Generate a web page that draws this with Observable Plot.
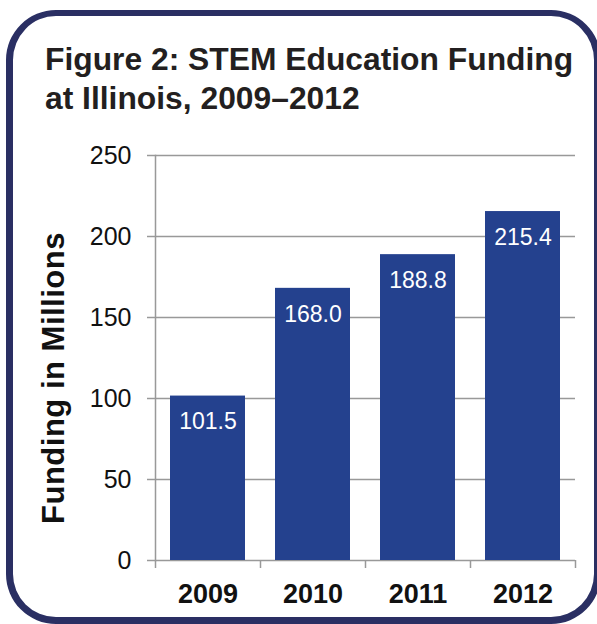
<!DOCTYPE html>
<html>
<head>
<meta charset="utf-8">
<script src="https://cdn.jsdelivr.net/npm/d3@7"></script>
<script src="https://cdn.jsdelivr.net/npm/@observablehq/plot@0.6"></script>
<style>
  body { margin: 0; background: #fff; font-family: "Liberation Sans", Arial, sans-serif; }
  #wrap { position: relative; width: 597px; height: 624px; overflow: hidden; background: #fff; }
  #border { position: absolute; left: 6px; top: 10px; width: 581px; height: 601px; border: 7px solid #2a2f63; border-top-width: 6px; border-radius: 50px; }
  #title { position: absolute; left: 45px; top: 40px; margin: 0; font-size: 31.8px; line-height: 39px; font-weight: bold; color: #231f20; }
  #chart { position: absolute; left: 0; top: 130px; }
  #chart svg .ylab text { letter-spacing: 0.5px; }
</style>
</head>
<body>
<div id="wrap">
  <div id="border"></div>
  <div id="title">Figure 2: STEM Education Funding<br>at Illinois, 2009–2012</div>
  <div id="chart"></div>
</div>
<script>
const years = ["2009", "2010", "2011", "2012"];
const funding = [101.5, 168.0, 188.8, 215.4];
const yTicks = [0, 50, 100, 150, 200, 250];
const yLabel = "Funding in Millions";

const data = years.map((year, i) => ({year, value: funding[i]}));

const plot = Plot.plot({
  width: 597,
  height: 490,
  marginTop: 25,
  marginBottom: 60,
  marginLeft: 155,
  marginRight: 22,
  style: { fontFamily: "'Liberation Sans', Arial, sans-serif", background: "transparent", overflow: "visible" },
  x: { domain: years, paddingInner: 0.286, paddingOuter: 0.143, label: null },
  y: { domain: [0, 250], label: null },
  marks: [
    Plot.ruleY(yTicks, { stroke: "#999", strokeWidth: 1.5 }),
    Plot.frame({ anchor: "left", stroke: "#999", strokeWidth: 1.5 }),
    Plot.ruleX(years, { x: d => d, y1: 0, y2: 0, dx: -52.5, insetBottom: -8, stroke: "#999", strokeWidth: 1.5 }),
    Plot.ruleX(years.slice(-1), { x: d => d, y1: 0, y2: 0, dx: 52.5, insetBottom: -8, stroke: "#999", strokeWidth: 1.5 }),
    Plot.axisY({ ticks: yTicks, tickSize: 8, tickPadding: 16, fontSize: 25, stroke: "#999", strokeWidth: 1.5, fill: "#111", label: null }),
    Plot.text([yLabel], { frameAnchor: "left", text: d => d, rotate: -90, dx: -101, dy: 20, textAnchor: "middle", lineAnchor: "middle", fontSize: 31, fontWeight: "bold", fill: "#111", className: "ylab" }),
    Plot.axisX({ tickSize: 0, tickPadding: 23, fontSize: 27, fontWeight: "bold", fill: "#111", label: null }),
    Plot.barY(data, { x: "year", y: "value", fill: "#24418e" }),
    Plot.text(data, { x: "year", y: "value", text: d => d.value.toFixed(1), dy: 26, fill: "white", fontSize: 23 })
  ]
});
document.getElementById("chart").appendChild(plot);
</script>
</body>
</html>
